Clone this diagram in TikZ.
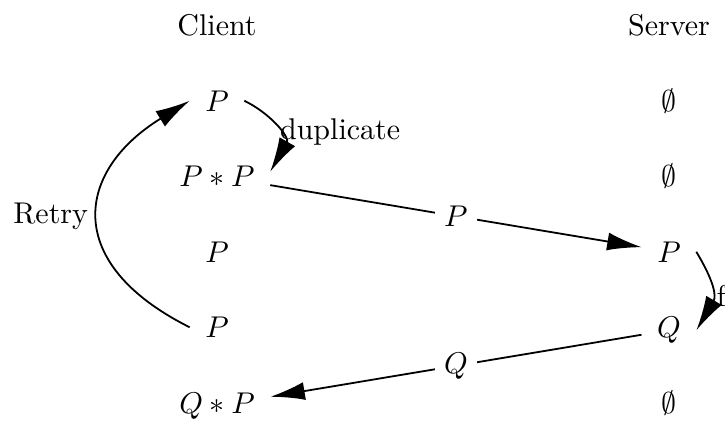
\documentclass[tikz,border=0pt]{standalone}
\usetikzlibrary{arrows.meta}
\begin{document}
\begin{tikzpicture}[x=0.3333pt,y=-0.3333pt,
  cell/.style={anchor=base, inner sep=5pt},
  head/.style={anchor=base, inner sep=0pt},
  arr/.style={-{Latex[length=11.5pt,width=6pt]}, line width=0.6pt},
  desc/.style={fill=white, inner sep=3pt}]
\useasboundingbox (0,0) rectangle (725,422);
\clip (0,0) rectangle (725,422);
% headers
\node[head] (client) at (217,35) {Client};
\node[head] (server) at (669,35) {Server};
% client column
\node[cell] (c1) at (217,111) {$P$};
\node[cell] (c2) at (217,186.5) {$P*P$};
\node[cell] (c3) at (217,262) {$P$};
\node[cell] (c4) at (217,337.5) {$P$};
\node[cell] (c5) at (217,413) {$Q*P$};
% server column
\node[cell] (s1) at (669,111) {$\emptyset$};
\node[cell] (s2) at (669,186.5) {$\emptyset$};
\node[cell] (s3) at (669,262) {$P$};
\node[cell] (s4) at (669,337.5) {$Q$};
\node[cell] (s5) at (669,413) {$\emptyset$};
% connectors
\draw[arr] (c1.east) .. controls +(25,12) and +(20,-35) .. ([yshift=1.5pt]c2.east)
  node[pos=0.5, anchor=west, inner sep=0.5pt, xshift=1.2pt, yshift=-1.3pt] (duplab) {duplicate};
\draw[arr] (c2) -- (s3) node[midway, desc] (plab) {$P$};
\draw[arr] (s3.east) .. controls +(18,30) and +(20,-34) .. (s4.east)
  node[pos=0.5, anchor=west, inner sep=0pt, xshift=1.7pt, yshift=-2pt] (flab) {f};
\draw[arr] (s4) -- (c5) node[midway, desc] (qlab) {$Q$};
\draw[arr] (c4.west) .. controls +(-128,-64) and +(-114,70) .. (c1.west)
  node[pos=0.5, left] (retrylab) {Retry};
\end{tikzpicture}
\end{document}
